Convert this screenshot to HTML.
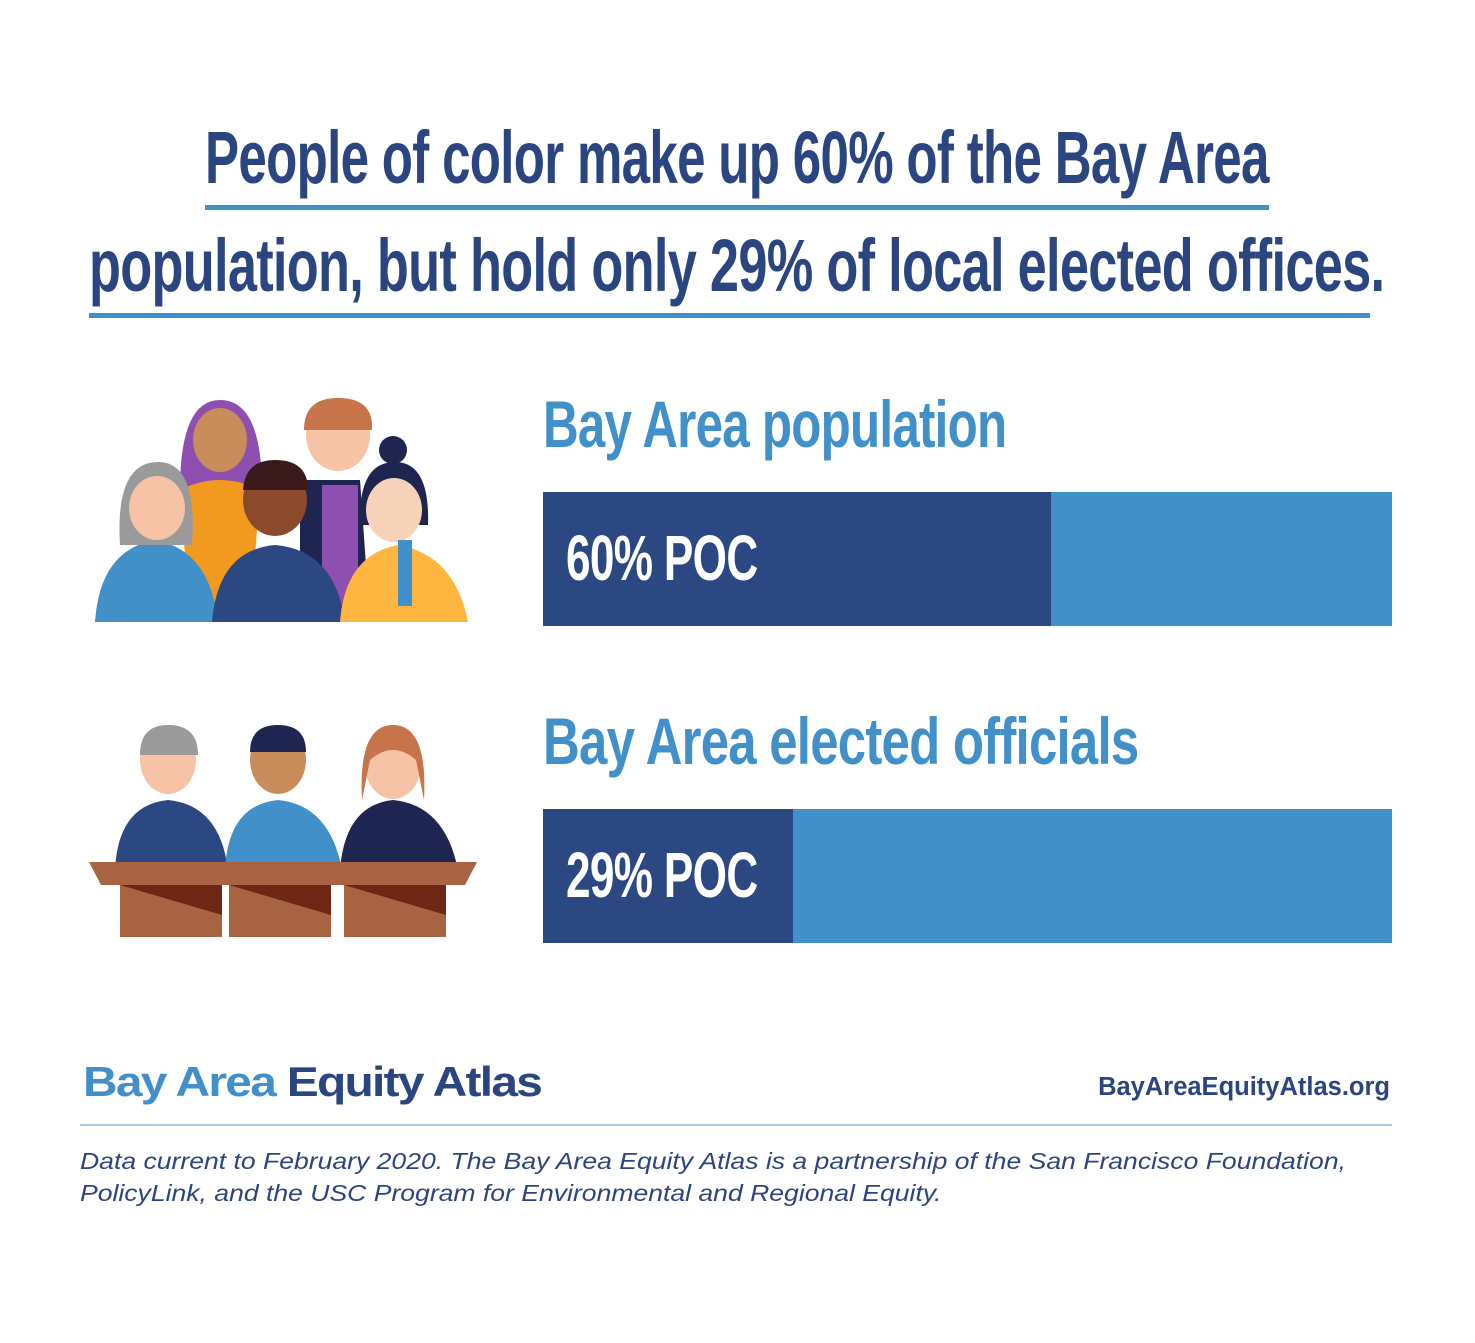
<!DOCTYPE html>
<html><head><meta charset="utf-8"><style>
body{margin:0;width:1475px;height:1343px;background:#fff;position:relative;overflow:hidden;font-family:"Liberation Sans",sans-serif}
.t{position:absolute;white-space:nowrap;transform-origin:left top}
.c{font-weight:bold;letter-spacing:-1px}
</style></head><body>
<div class="t c" style="left:205px;top:115px;font-size:74px;color:#2b4580;transform:scaleX(0.69)">People of color make up 60% of the Bay Area</div>
<div style="position:absolute;left:205px;top:205px;width:1064px;height:5px;background:#4290c9"></div>
<div class="t c" style="left:89px;top:223px;font-size:74px;color:#2b4580;transform:scaleX(0.707)">population, but hold only 29% of local elected offices.</div>
<div style="position:absolute;left:89px;top:313px;width:1281px;height:5px;background:#4290c9"></div>

<div class="t c" style="left:543px;top:386px;font-size:66px;color:#4290c9;transform:scaleX(0.747)">Bay Area population</div>
<div style="position:absolute;left:543px;top:492px;width:849px;height:134px;background:#4290c9"></div>
<div style="position:absolute;left:543px;top:492px;width:508px;height:134px;background:#2c4882"></div>
<div class="t c" style="left:566px;top:521px;font-size:64px;color:#fff;transform:scaleX(0.69)">60% POC</div>

<div class="t c" style="left:543px;top:703px;font-size:66px;color:#4290c9;transform:scaleX(0.772)">Bay Area elected officials</div>
<div style="position:absolute;left:543px;top:809px;width:849px;height:134px;background:#4290c9"></div>
<div style="position:absolute;left:543px;top:809px;width:250px;height:134px;background:#2c4882"></div>
<div class="t c" style="left:566px;top:838px;font-size:64px;color:#fff;transform:scaleX(0.69)">29% POC</div>

<svg style="position:absolute;left:0;top:0" width="520" height="960">
<path d="M180 490 Q180 400 220 400 Q262 400 262 490 Z" fill="#8e4fb0"/>
<path d="M180 490 Q220 470 260 490 L250 622 L190 622 Z" fill="#f29a1f"/>
<ellipse cx="220" cy="440" rx="27" ry="32" fill="#c98d5c"/>
<path d="M300 480 L360 480 L370 622 L300 622 Z" fill="#1e2550"/>
<rect x="322" y="485" width="36" height="137" fill="#8e4fb0"/>
<ellipse cx="338" cy="435" rx="32" ry="36" fill="#f6c3a6"/>
<path d="M304 430 Q304 398 338 398 Q374 398 372 430 Z" fill="#c8744a"/>
<path d="M95 622 Q100 550 155 540 Q210 550 218 622 Z" fill="#4290c9"/>
<path d="M120 545 Q115 462 158 462 Q198 462 192 545 Z" fill="#9a9a9a"/>
<ellipse cx="157" cy="508" rx="28" ry="32" fill="#f6c3a6"/>
<path d="M212 622 Q218 550 275 545 Q335 550 345 622 Z" fill="#2c4882"/>
<ellipse cx="275" cy="500" rx="32" ry="36" fill="#8a4a2b"/>
<path d="M243 490 Q245 460 275 460 Q308 460 308 490 Z" fill="#3a1a1a"/>
<path d="M340 622 Q345 555 398 545 Q455 555 468 622 Z" fill="#ffb640"/>
<path d="M360 525 Q358 462 395 462 Q430 462 428 525 Z" fill="#1e2550"/>
<circle cx="393" cy="450" r="14" fill="#1e2550"/>
<ellipse cx="394" cy="510" rx="28" ry="32" fill="#f6d2b8"/>
<rect x="398" y="540" width="14" height="66" fill="#4290c9"/>
<path d="M115 870 Q118 805 168 800 Q220 805 228 870 Z" fill="#2c4882"/>
<ellipse cx="168" cy="760" rx="28" ry="34" fill="#f6c3a6"/>
<path d="M140 755 Q140 725 168 725 Q198 725 198 755 Z" fill="#9a9a9a"/>
<path d="M225 870 Q228 805 278 800 Q330 805 342 870 Z" fill="#4290c9"/>
<ellipse cx="278" cy="760" rx="28" ry="34" fill="#c98d5c"/>
<path d="M250 752 Q250 725 278 725 Q306 725 306 752 Z" fill="#1e2550"/>
<path d="M340 870 Q345 805 393 800 Q445 805 458 870 Z" fill="#1e2550"/>
<ellipse cx="393" cy="765" rx="28" ry="34" fill="#f6c3a6"/>
<path d="M362 800 Q358 725 393 725 Q428 725 424 800 L416 760 Q393 740 370 760 Z" fill="#c8744a"/>
<path d="M89 862 L477 862 L465 885 L101 885 Z" fill="#a86442"/>
<rect x="120" y="885" width="102" height="52" fill="#a86442"/>
<rect x="229" y="885" width="102" height="52" fill="#a86442"/>
<rect x="344" y="885" width="102" height="52" fill="#a86442"/>
<path d="M120 885 L222 885 L222 915 Z M229 885 L331 885 L331 915 Z M344 885 L446 885 L446 915 Z" fill="#6e2714"/>
</svg>

<div class="t" style="left:83px;top:1058px;font-size:42px;font-weight:bold;letter-spacing:-1.5px;transform:scaleX(1.14)"><span style="color:#4290c9">Bay Area</span> <span style="color:#2b4580">Equity Atlas</span></div>
<div class="t" style="right:85px;top:1073px;font-size:25.5px;font-weight:bold;color:#2b4580">BayAreaEquityAtlas.org</div>
<div style="position:absolute;left:80px;top:1124px;width:1312px;height:2px;background:#a9cce8"></div>
<div class="t" style="left:80px;top:1145px;font-size:23.5px;font-style:italic;color:#2b4580;line-height:32px;transform:scaleX(1.13)">Data current to February 2020. The Bay Area Equity Atlas is a partnership of the San Francisco Foundation,<br>PolicyLink, and the USC Program for Environmental and Regional Equity.</div>
</body></html>
